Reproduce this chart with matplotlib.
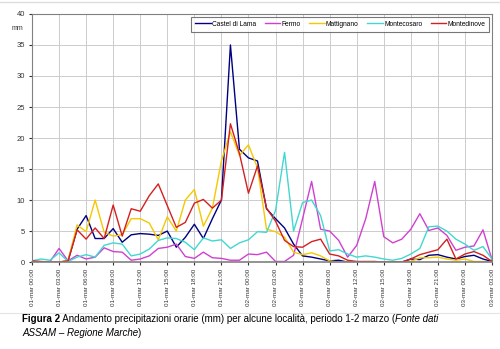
import numpy as np
import matplotlib.pyplot as plt
from matplotlib.lines import Line2D

plt.rcParams['font.family'] = ['Liberation Sans', 'DejaVu Sans']

# hourly rainfall (mm), 01-mar 00:00 .. 03-mar 03:00
hours = np.arange(52)
tick_labels = ["01-mar 00:00", "01-mar 03:00", "01-mar 06:00", "01-mar 09:00",
               "01-mar 12:00", "01-mar 15:00", "01-mar 18:00", "01-mar 21:00",
               "02-mar 00:00", "02-mar 03:00", "02-mar 06:00", "02-mar 09:00",
               "02-mar 12:00", "02-mar 15:00", "02-mar 18:00", "02-mar 21:00",
               "03-mar 00:00", "03-mar 03:00"]

castel_di_lama = [0, 0, 0, 0, 0.2, 5.3, 7.5, 3.8, 3.8, 5.4, 3.2, 4.4, 4.6, 4.5, 4.3, 5.0,
                  2.4, 4.0, 6.1, 3.8, 7.0, 10.0, 35.0, 18.2, 16.8, 16.3, 8.6, 7.0, 5.5, 2.9,
                  1.0, 0.8, 0.5, 0.2, 0.3, 0, 0, 0, 0, 0, 0, 0, 0.5, 0.4, 1.1, 1.2, 0.8, 0.5,
                  0.9, 1.1, 0.5, 0.1]
fermo = [0, 0, 0.1, 2.2, 0.2, 1.1, 0.5, 0.8, 2.3, 1.7, 1.6, 0.3, 0.5, 1.0, 2.2, 2.4,
         2.9, 0.9, 0.6, 1.6, 0.7, 0.6, 0.3, 0.3, 1.3, 1.2, 1.6, 0.1, 0.1, 1.1, 7.0, 13.0,
         5.3, 5.0, 3.5, 0.8, 2.7, 7.0, 13.0, 4.1, 3.1, 3.7, 5.3, 7.8, 5.1, 5.5, 4.3, 1.9,
         2.4, 2.6, 5.2, 0.4]
mattignano = [0.1, 0, 0, 0, 0.3, 6.0, 4.9, 10.0, 4.8, 4.2, 4.4, 7.0, 7.0, 6.3, 3.6, 7.3,
              5.0, 10.0, 11.7, 5.8, 8.7, 16.3, 21.0, 17.2, 18.9, 15.2, 5.3, 4.9, 4.0, 1.6,
              1.2, 1.5, 1.0, 0.2, 0, 0, 0, 0, 0, 0, 0, 0, 0.1, 0.7, 0.7, 0.8, 0.5, 0.3,
              0.5, 0.1, 0.1, 0]
montecosaro = [0.2, 0.5, 0.3, 1.5, 0.1, 0.8, 1.2, 0.8, 2.7, 3.1, 2.9, 1.0, 1.3, 2.1, 3.5,
               3.9, 3.8, 3.2, 2.0, 3.9, 3.4, 3.6, 2.2, 3.1, 3.6, 4.9, 4.8, 8.3, 17.7, 5.0,
               9.6, 10.0, 7.5, 1.8, 2.0, 1.3, 0.8, 1.0, 0.8, 0.5, 0.3, 0.6, 1.3, 2.2, 5.7,
               5.8, 5.0, 3.7, 2.9, 1.9, 2.5, 0.5]
montedinove = [0.2, 0.1, 0, 0, 0.2, 5.2, 3.7, 5.5, 3.8, 9.2, 4.2, 8.6, 8.2, 10.7, 12.6,
               9.1, 5.6, 6.4, 9.5, 10.1, 8.7, 10.0, 22.3, 17.5, 11.1, 15.5, 8.7, 6.6, 3.5,
               2.5, 2.4, 3.3, 3.7, 1.3, 1.0, 0.3, 0.1, 0.1, 0.1, 0, 0, 0, 0.5, 1.2, 1.6,
               2.0, 3.7, 0.5, 1.3, 1.7, 1.1, 0.1]

series = [("Castel di Lama", castel_di_lama, "#000080"),
          ("Fermo", fermo, "#d040d0"),
          ("Mattignano", mattignano, "#f5c800"),
          ("Montecosaro", montecosaro, "#40d8d0"),
          ("Montedinove", montedinove, "#d42020")]

fig = plt.figure(figsize=(5.0, 3.49), dpi=100)
ax = fig.add_axes([0.064, 0.249, 0.920, 0.711])

for name, vals, col in series:
    ax.plot(hours, vals, color=col, linewidth=1.0, label=name)

ax.set_xlim(0, 51)
ax.set_ylim(0, 40)
ax.set_yticks(np.arange(0, 41, 5))
ax.set_xticks(np.arange(0, 52, 3))
ax.set_xticklabels(tick_labels, rotation=90, fontsize=4.5, color="#333333")
ax.tick_params(axis="y", labelsize=5.5, colors="#333333", length=2, pad=3)
ax.tick_params(axis="x", length=2, pad=3, colors="#333333")
ax.grid(True, color="#cccccc", linewidth=0.7)
ax.set_axisbelow(True)
for s in ax.spines.values():
    s.set_color("#808080")
    s.set_linewidth(0.8)
ax.spines["bottom"].set_linewidth(1.2)

fig.text(0.024, 0.915, "mm", fontsize=5, color="#333333")

leg = ax.legend(loc="upper right", ncol=5, fontsize=4.8, frameon=True, fancybox=False,
                edgecolor="#555555", handlelength=2.3, handletextpad=0.2,
                columnspacing=1.3, borderaxespad=0.4, borderpad=0.6)
leg.get_frame().set_linewidth(0.8)

# separator lines
fig.add_artist(Line2D([0, 1], [0.995, 0.995], color="#dddddd", linewidth=1))
fig.add_artist(Line2D([0, 1], [0.103, 0.103], color="#e4e4e4", linewidth=0.8))

# caption, pieces chained one after the other
cap = 7.05
t1 = fig.text(0.044, 0.076, "Figura 2", fontsize=cap, weight="bold")
t2 = ax.annotate(" Andamento precipitazioni orarie (mm) per alcune località, periodo 1-2 marzo (",
                 xy=(1, 0), xycoords=t1, va="bottom", fontsize=cap, annotation_clip=False)
ax.annotate("Fonte dati", xy=(1, 0), xycoords=t2, va="bottom", fontsize=cap,
            style="italic", annotation_clip=False)
t4 = fig.text(0.044, 0.036, "ASSAM – Regione Marche", fontsize=cap, style="italic")
ax.annotate(")", xy=(1, 0), xycoords=t4, va="bottom", fontsize=cap, annotation_clip=False)

fig.savefig("out.png", dpi=100)
